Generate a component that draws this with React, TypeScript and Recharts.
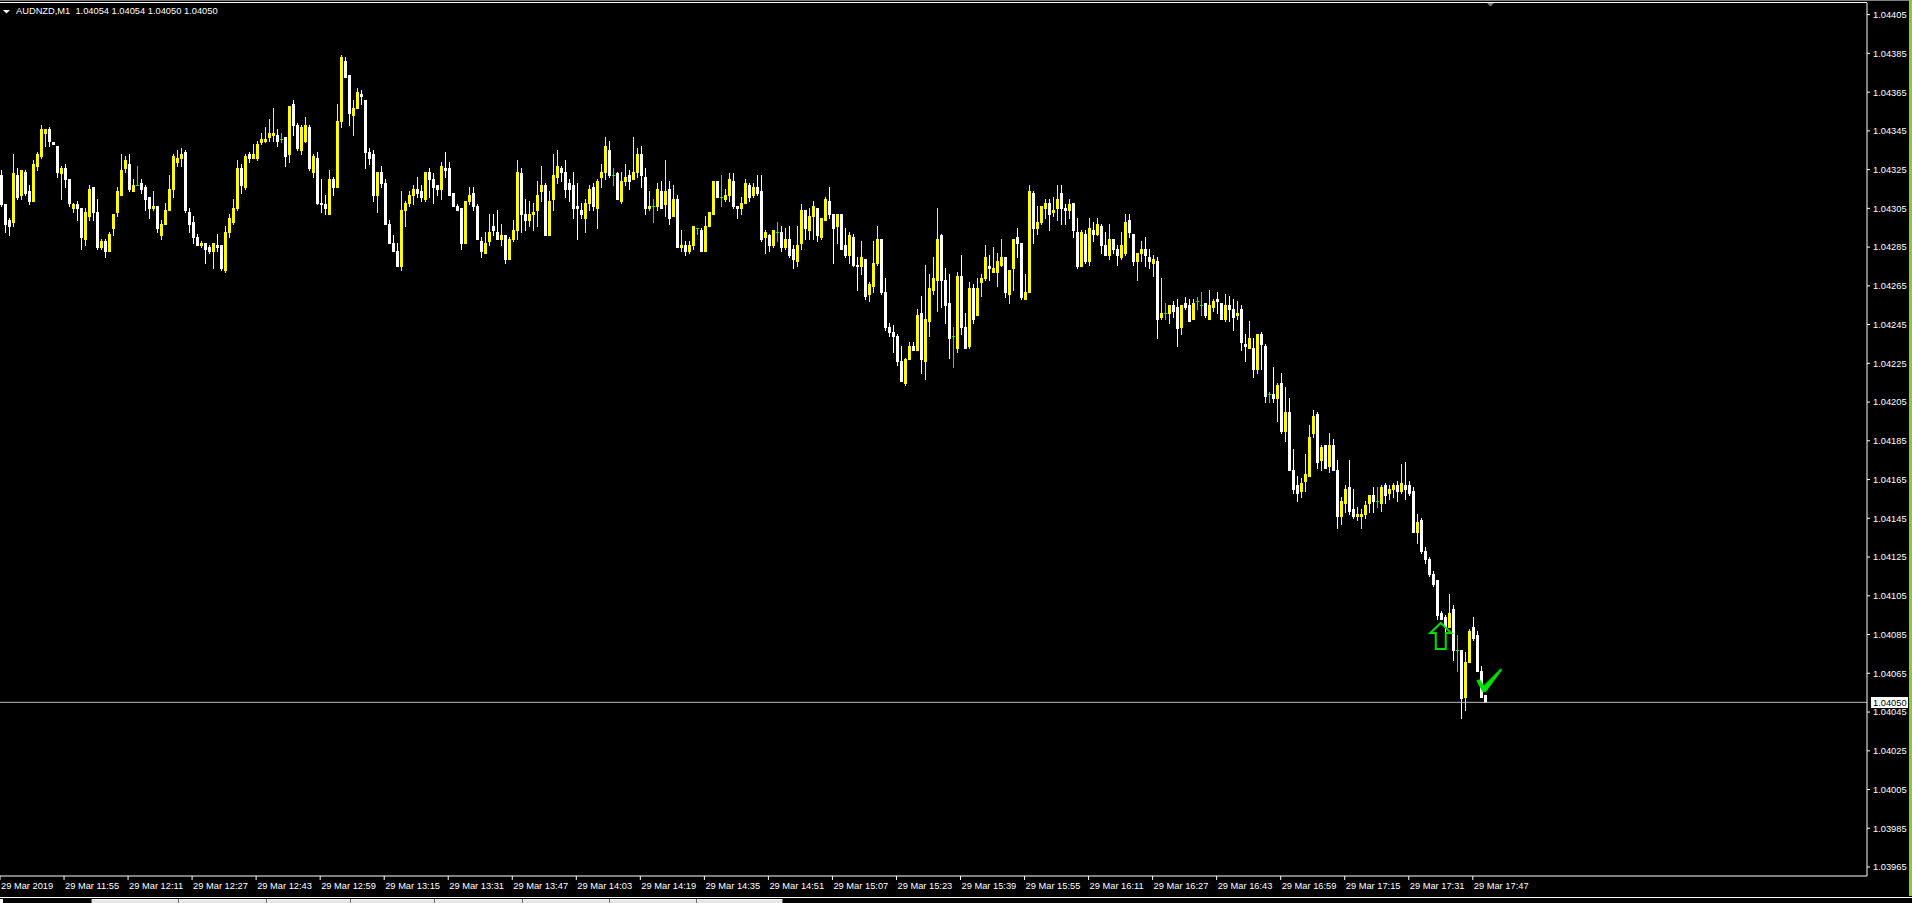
import React from 'react';
import { ComposedChart, Bar, XAxis, YAxis, ReferenceLine, ReferenceDot } from 'recharts';

const symbol = 'AUDNZD,M1';
const firstBarTime = '11:39';
const dayLabel = '29 Mar';
const firstDateLabel = '29 Mar 2019';
const timeTicks = ['11:39', '11:55', '12:11', '12:27', '12:43', '12:59', '13:15', '13:31', '13:47', '14:03', '14:19', '14:35', '14:51', '15:07', '15:23', '15:39', '15:55', '16:11', '16:27', '16:43', '16:59', '17:15', '17:31', '17:47'];
const priceTicks = [1.03965, 1.03985, 1.04005, 1.04025, 1.04045, 1.04065, 1.04085, 1.04105, 1.04125, 1.04145, 1.04165, 1.04185, 1.04205, 1.04225, 1.04245, 1.04265, 1.04285, 1.04305, 1.04325, 1.04345, 1.04365, 1.04385, 1.04405];
const priceDomain = [1.0396035, 1.04411];
const totalSlots = 467;
const arrowMark = { time: '17:39', price: 1.04091 };
const checkMark = { time: '17:50', price: 1.04056 };
const tabDividers = [91, 178, 266, 350, 434, 522, 609, 696, 782];

const opens = [
1.04322,1.04307,1.04299,1.04298,1.04322,1.04312,1.04324,1.04314,1.04309,1.04327,
1.04332,1.04344,1.04346,1.04339,1.04337,1.04323,1.04326,1.04320,1.04305,1.04307,
1.04305,1.04289,1.04301,1.04316,1.04303,1.04285,1.04288,1.04283,1.04295,1.04303,
1.04312,1.04326,1.04328,1.04314,1.04317,1.04318,1.04316,1.04311,1.04305,1.04306,
1.04291,1.04297,1.04304,1.04315,1.04329,1.04331,1.04334,1.04303,1.04298,1.04290,
1.04286,1.04287,1.04285,1.04283,1.04286,1.04286,1.04273,1.04293,1.04298,1.04305,
1.04326,1.04316,1.04333,1.04331,1.04331,1.04339,1.04340,1.04342,1.04343,1.04343,
1.04341,1.04342,1.04333,1.04359,1.04348,1.04335,1.04340,1.04347,1.04324,1.04331,
1.04308,1.04307,1.04302,1.04320,1.04316,1.04350,1.04381,1.04374,1.04353,1.04357,
1.04364,1.04361,1.04334,1.04333,1.04312,1.04324,1.04318,1.04297,1.04287,1.04283,
1.04275,1.04304,1.04308,1.04312,1.04315,1.04314,1.04310,1.04324,1.04320,1.04317,
1.04315,1.04326,1.04326,1.04313,1.04306,1.04305,1.04287,1.04309,1.04313,1.04306,
1.04288,1.04282,1.04288,1.04296,1.04293,1.04289,1.04291,1.04279,1.04289,1.04294,
1.04323,1.04302,1.04299,1.04302,1.04304,1.04314,1.04317,1.04291,1.04310,1.04321,
1.04326,1.04324,1.04318,1.04317,1.04306,1.04304,1.04300,1.04308,1.04316,1.04305,
1.04321,1.04324,1.04335,1.04322,1.04323,1.04309,1.04319,1.04322,1.04320,1.04324,
1.04333,1.04321,1.04305,1.04306,1.04306,1.04314,1.04307,1.04315,1.04301,1.04310,
1.04285,1.04286,1.04283,1.04286,1.04295,1.04294,1.04283,1.04296,1.04302,1.04319,
1.04311,1.04310,1.04312,1.04319,1.04306,1.04305,1.04308,1.04317,1.04312,1.04316,
1.04314,1.04290,1.04291,1.04286,1.04293,1.04293,1.04285,1.04289,1.04284,1.04278,
1.04287,1.04304,1.04294,1.04301,1.04305,1.04290,1.04299,1.04309,1.04302,1.04296,
1.04302,1.04286,1.04281,1.04290,1.04276,1.04275,1.04279,1.04261,1.04265,1.04277,
1.04289,1.04262,1.04244,1.04241,1.04239,1.04226,1.04215,1.04227,1.04234,1.04232,
1.04251,1.04226,1.04247,1.04263,1.04268,1.04291,1.04268,1.04256,1.04239,1.04233,
1.04270,1.04244,1.04234,1.04264,1.04250,1.04267,1.04269,1.04275,1.04272,1.04272,
1.04276,1.04280,1.04261,1.04274,1.04290,1.04287,1.04258,1.04262,1.04313,1.04295,
1.04298,1.04305,1.04308,1.04303,1.04305,1.04313,1.04305,1.04304,1.04308,1.04293,
1.04275,1.04292,1.04278,1.04294,1.04292,1.04296,1.04286,1.04281,1.04289,1.04284,
1.04280,1.04282,1.04299,1.04292,1.04278,1.04282,1.04284,1.04280,1.04277,1.04278,
1.04249,1.04251,1.04251,1.04255,1.04254,1.04244,1.04256,1.04255,1.04248,1.04257,
1.04255,1.04256,1.04248,1.04254,1.04258,1.04256,1.04248,1.04255,1.04253,1.04250,
1.04253,1.04235,1.04233,1.04233,1.04222,1.04240,1.04234,1.04209,1.04209,1.04207,
1.04215,1.04190,1.04200,1.04170,1.04162,1.04159,1.04164,1.04167,1.04189,1.04199,
1.04175,1.04183,1.04172,1.04183,1.04170,1.04146,1.04153,1.04161,1.04150,1.04146,
1.04146,1.04147,1.04153,1.04157,1.04154,1.04153,1.04162,1.04158,1.04160,1.04162,
1.04159,1.04162,1.04162,1.04159,1.04138,1.04144,1.04128,1.04124,1.04116,1.04113,
1.04096,1.04094,1.04089,1.04098,1.04077,1.04077,1.04053,1.04071,1.04089,1.04085,
1.04066,1.04054];

const highs = [
1.04325,1.04307,1.04300,1.04333,1.04326,1.04325,1.04325,1.04317,1.04330,1.04334,
1.04348,1.04346,1.04347,1.04339,1.04337,1.04327,1.04328,1.04320,1.04308,1.04309,
1.04305,1.04305,1.04317,1.04316,1.04310,1.04289,1.04289,1.04293,1.04302,1.04316,
1.04333,1.04332,1.04333,1.04320,1.04327,1.04320,1.04317,1.04311,1.04314,1.04306,
1.04299,1.04308,1.04322,1.04333,1.04335,1.04336,1.04335,1.04305,1.04301,1.04292,
1.04288,1.04287,1.04286,1.04287,1.04292,1.04286,1.04296,1.04302,1.04310,1.04330,
1.04328,1.04333,1.04334,1.04338,1.04340,1.04344,1.04347,1.04351,1.04357,1.04346,
1.04344,1.04342,1.04358,1.04361,1.04349,1.04348,1.04352,1.04348,1.04333,1.04334,
1.04320,1.04312,1.04325,1.04321,1.04359,1.04384,1.04383,1.04374,1.04361,1.04367,
1.04366,1.04361,1.04336,1.04335,1.04324,1.04327,1.04320,1.04299,1.04291,1.04287,
1.04314,1.04309,1.04314,1.04317,1.04321,1.04317,1.04324,1.04326,1.04323,1.04317,
1.04329,1.04334,1.04329,1.04313,1.04307,1.04305,1.04309,1.04316,1.04316,1.04307,
1.04290,1.04293,1.04302,1.04302,1.04304,1.04297,1.04291,1.04290,1.04299,1.04330,
1.04326,1.04310,1.04309,1.04308,1.04319,1.04327,1.04318,1.04314,1.04333,1.04335,
1.04327,1.04330,1.04320,1.04324,1.04318,1.04308,1.04310,1.04317,1.04318,1.04320,
1.04328,1.04342,1.04340,1.04326,1.04324,1.04324,1.04328,1.04325,1.04342,1.04336,
1.04337,1.04326,1.04314,1.04310,1.04318,1.04319,1.04330,1.04319,1.04317,1.04312,
1.04294,1.04288,1.04288,1.04296,1.04295,1.04295,1.04301,1.04303,1.04319,1.04319,
1.04322,1.04315,1.04323,1.04323,1.04306,1.04311,1.04320,1.04318,1.04318,1.04322,
1.04322,1.04294,1.04292,1.04294,1.04298,1.04296,1.04295,1.04296,1.04286,1.04296,
1.04307,1.04304,1.04305,1.04309,1.04305,1.04300,1.04311,1.04316,1.04302,1.04302,
1.04302,1.04295,1.04293,1.04292,1.04280,1.04288,1.04279,1.04267,1.04288,1.04296,
1.04289,1.04269,1.04246,1.04245,1.04240,1.04234,1.04228,1.04236,1.04236,1.04253,
1.04260,1.04276,1.04271,1.04280,1.04305,1.04292,1.04274,1.04271,1.04244,1.04272,
1.04281,1.04251,1.04267,1.04266,1.04269,1.04271,1.04286,1.04281,1.04285,1.04282,
1.04289,1.04280,1.04273,1.04289,1.04295,1.04287,1.04271,1.04317,1.04314,1.04306,
1.04306,1.04310,1.04310,1.04311,1.04317,1.04317,1.04307,1.04310,1.04308,1.04300,
1.04294,1.04294,1.04300,1.04298,1.04300,1.04297,1.04293,1.04297,1.04289,1.04286,
1.04293,1.04302,1.04302,1.04292,1.04282,1.04288,1.04290,1.04284,1.04281,1.04280,
1.04269,1.04256,1.04255,1.04257,1.04258,1.04255,1.04259,1.04258,1.04258,1.04259,
1.04262,1.04256,1.04263,1.04258,1.04262,1.04256,1.04261,1.04260,1.04258,1.04257,
1.04255,1.04240,1.04247,1.04238,1.04240,1.04241,1.04235,1.04210,1.04223,1.04215,
1.04220,1.04213,1.04207,1.04181,1.04167,1.04166,1.04178,1.04193,1.04201,1.04200,
1.04183,1.04183,1.04189,1.04186,1.04175,1.04156,1.04162,1.04175,1.04160,1.04151,
1.04150,1.04154,1.04157,1.04161,1.04161,1.04162,1.04163,1.04162,1.04163,1.04164,
1.04173,1.04174,1.04164,1.04161,1.04147,1.04145,1.04130,1.04125,1.04118,1.04113,
1.04097,1.04095,1.04106,1.04100,1.04085,1.04077,1.04076,1.04088,1.04094,1.04087,
1.04069,1.04054];

const lows = [
1.04306,1.04293,1.04291,1.04296,1.04310,1.04310,1.04312,1.04307,1.04309,1.04325,
1.04331,1.04337,1.04337,1.04338,1.04321,1.04310,1.04316,1.04306,1.04303,1.04299,
1.04284,1.04286,1.04299,1.04299,1.04284,1.04284,1.04280,1.04283,1.04291,1.04301,
1.04312,1.04324,1.04314,1.04314,1.04317,1.04313,1.04304,1.04300,1.04304,1.04293,
1.04289,1.04297,1.04304,1.04311,1.04327,1.04327,1.04303,1.04293,1.04287,1.04286,
1.04285,1.04277,1.04282,1.04274,1.04283,1.04273,1.04272,1.04290,1.04297,1.04304,
1.04313,1.04315,1.04329,1.04331,1.04330,1.04338,1.04339,1.04340,1.04340,1.04337,
1.04339,1.04327,1.04329,1.04343,1.04335,1.04333,1.04339,1.04325,1.04321,1.04307,
1.04303,1.04302,1.04302,1.04312,1.04316,1.04347,1.04373,1.04348,1.04343,1.04357,
1.04359,1.04326,1.04328,1.04309,1.04303,1.04316,1.04297,1.04287,1.04283,1.04275,
1.04273,1.04296,1.04306,1.04307,1.04311,1.04309,1.04309,1.04311,1.04308,1.04312,
1.04310,1.04321,1.04312,1.04306,1.04304,1.04284,1.04287,1.04307,1.04304,1.04289,
1.04280,1.04282,1.04286,1.04291,1.04289,1.04286,1.04277,1.04279,1.04288,1.04289,
1.04293,1.04294,1.04296,1.04294,1.04296,1.04309,1.04291,1.04291,1.04304,1.04318,
1.04319,1.04311,1.04309,1.04300,1.04289,1.04300,1.04293,1.04304,1.04304,1.04295,
1.04316,1.04320,1.04321,1.04317,1.04310,1.04308,1.04317,1.04315,1.04320,1.04321,
1.04316,1.04302,1.04304,1.04298,1.04304,1.04305,1.04301,1.04297,1.04301,1.04285,
1.04283,1.04281,1.04282,1.04284,1.04292,1.04283,1.04283,1.04296,1.04302,1.04311,
1.04306,1.04309,1.04309,1.04305,1.04300,1.04302,1.04308,1.04309,1.04311,1.04312,
1.04288,1.04282,1.04283,1.04285,1.04288,1.04283,1.04284,1.04280,1.04274,1.04275,
1.04284,1.04289,1.04289,1.04289,1.04288,1.04289,1.04299,1.04300,1.04277,1.04287,
1.04284,1.04280,1.04277,1.04275,1.04263,1.04271,1.04258,1.04257,1.04262,1.04276,
1.04261,1.04242,1.04239,1.04231,1.04224,1.04216,1.04214,1.04227,1.04232,1.04232,
1.04220,1.04217,1.04239,1.04261,1.04252,1.04254,1.04246,1.04228,1.04223,1.04231,
1.04240,1.04233,1.04233,1.04246,1.04250,1.04260,1.04268,1.04268,1.04272,1.04265,
1.04275,1.04259,1.04256,1.04263,1.04280,1.04258,1.04258,1.04262,1.04287,1.04292,
1.04297,1.04300,1.04294,1.04301,1.04299,1.04297,1.04297,1.04300,1.04290,1.04274,
1.04275,1.04277,1.04276,1.04288,1.04291,1.04282,1.04281,1.04279,1.04282,1.04276,
1.04279,1.04281,1.04290,1.04276,1.04268,1.04278,1.04275,1.04274,1.04270,1.04238,
1.04248,1.04248,1.04246,1.04249,1.04234,1.04240,1.04253,1.04247,1.04248,1.04253,
1.04250,1.04249,1.04248,1.04252,1.04251,1.04248,1.04247,1.04247,1.04242,1.04248,
1.04232,1.04226,1.04233,1.04218,1.04220,1.04222,1.04205,1.04205,1.04205,1.04195,
1.04189,1.04185,1.04170,1.04158,1.04154,1.04156,1.04159,1.04167,1.04187,1.04171,
1.04170,1.04171,1.04169,1.04170,1.04140,1.04142,1.04148,1.04147,1.04145,1.04144,
1.04140,1.04145,1.04148,1.04148,1.04151,1.04149,1.04153,1.04155,1.04156,1.04154,
1.04158,1.04155,1.04157,1.04138,1.04132,1.04127,1.04122,1.04115,1.04110,1.04093,
1.04093,1.04086,1.04089,1.04072,1.04066,1.04042,1.04046,1.04071,1.04082,1.04066,
1.04053,1.04050];

const closes = [
1.04307,1.04297,1.04296,1.04323,1.04311,1.04325,1.04313,1.04309,1.04328,1.04333,
1.04346,1.04346,1.04340,1.04338,1.04324,1.04326,1.04320,1.04308,1.04307,1.04305,
1.04290,1.04303,1.04315,1.04303,1.04285,1.04288,1.04283,1.04292,1.04302,1.04314,
1.04325,1.04330,1.04315,1.04317,1.04317,1.04315,1.04310,1.04305,1.04306,1.04295,
1.04297,1.04304,1.04315,1.04332,1.04331,1.04333,1.04304,1.04297,1.04290,1.04286,
1.04287,1.04284,1.04283,1.04287,1.04285,1.04274,1.04293,1.04300,1.04305,1.04326,
1.04317,1.04332,1.04331,1.04333,1.04338,1.04341,1.04341,1.04344,1.04344,1.04340,
1.04341,1.04332,1.04358,1.04348,1.04336,1.04347,1.04348,1.04326,1.04332,1.04308,
1.04307,1.04305,1.04320,1.04316,1.04350,1.04383,1.04373,1.04354,1.04357,1.04365,
1.04363,1.04334,1.04331,1.04312,1.04324,1.04318,1.04297,1.04287,1.04283,1.04275,
1.04304,1.04308,1.04312,1.04315,1.04313,1.04311,1.04324,1.04320,1.04316,1.04315,
1.04327,1.04325,1.04312,1.04306,1.04304,1.04287,1.04309,1.04312,1.04306,1.04289,
1.04283,1.04287,1.04293,1.04294,1.04289,1.04291,1.04279,1.04289,1.04294,1.04324,
1.04302,1.04299,1.04302,1.04303,1.04312,1.04317,1.04291,1.04309,1.04322,1.04327,
1.04324,1.04315,1.04315,1.04305,1.04305,1.04302,1.04308,1.04315,1.04306,1.04319,
1.04324,1.04337,1.04322,1.04322,1.04310,1.04319,1.04321,1.04319,1.04324,1.04333,
1.04322,1.04305,1.04306,1.04306,1.04315,1.04305,1.04314,1.04300,1.04310,1.04285,
1.04286,1.04283,1.04286,1.04296,1.04295,1.04283,1.04296,1.04303,1.04319,1.04311,
1.04311,1.04312,1.04320,1.04306,1.04305,1.04308,1.04318,1.04311,1.04316,1.04313,
1.04289,1.04293,1.04286,1.04294,1.04293,1.04285,1.04289,1.04281,1.04279,1.04286,
1.04304,1.04295,1.04301,1.04306,1.04291,1.04300,1.04310,1.04302,1.04295,1.04302,
1.04284,1.04281,1.04291,1.04276,1.04275,1.04280,1.04260,1.04266,1.04277,1.04289,
1.04262,1.04244,1.04241,1.04239,1.04226,1.04216,1.04227,1.04234,1.04232,1.04250,
1.04227,1.04248,1.04264,1.04269,1.04289,1.04268,1.04255,1.04238,1.04239,1.04270,
1.04244,1.04233,1.04264,1.04248,1.04264,1.04269,1.04280,1.04274,1.04274,1.04278,
1.04280,1.04262,1.04273,1.04289,1.04287,1.04259,1.04262,1.04314,1.04295,1.04298,
1.04306,1.04308,1.04302,1.04304,1.04310,1.04305,1.04304,1.04307,1.04294,1.04275,
1.04293,1.04278,1.04295,1.04292,1.04297,1.04286,1.04281,1.04289,1.04284,1.04281,
1.04286,1.04298,1.04293,1.04278,1.04282,1.04284,1.04281,1.04278,1.04279,1.04248,
1.04251,1.04251,1.04255,1.04252,1.04243,1.04255,1.04254,1.04247,1.04256,1.04257,
1.04255,1.04250,1.04255,1.04257,1.04257,1.04248,1.04255,1.04253,1.04249,1.04251,
1.04236,1.04234,1.04238,1.04222,1.04240,1.04235,1.04208,1.04209,1.04207,1.04214,
1.04190,1.04200,1.04170,1.04160,1.04158,1.04163,1.04168,1.04187,1.04198,1.04174,
1.04182,1.04171,1.04183,1.04170,1.04146,1.04154,1.04160,1.04149,1.04146,1.04147,
1.04147,1.04152,1.04157,1.04154,1.04154,1.04161,1.04157,1.04160,1.04162,1.04159,
1.04163,1.04160,1.04158,1.04138,1.04143,1.04128,1.04124,1.04116,1.04111,1.04095,
1.04093,1.04089,1.04096,1.04077,1.04077,1.04052,1.04071,1.04087,1.04083,1.04066,
1.04053,1.04050];

const FONT = '"Liberation Sans", Arial, sans-serif';
const FS = 9.3;
const BULL = '#FFFF00';
const BEAR = '#FFFFFF';
const DOJI = '#00FF00';
const MARK = '#00E000';

function minuteLabel(start: string, k: number) {
  const [h, m] = start.split(':').map(Number);
  const t = h * 60 + m + k;
  return `${String(Math.floor(t / 60)).padStart(2, '0')}:${String(t % 60).padStart(2, '0')}`;
}

type Row = { t: string; o?: number; h?: number; l?: number; c?: number; range?: [number, number] };
const data: Row[] = [];
for (let i = 0; i < totalSlots; i++) {
  if (i < opens.length) {
    data.push({ t: minuteLabel(firstBarTime, i), o: opens[i], h: highs[i], l: lows[i], c: closes[i], range: [lows[i], highs[i]] });
  } else {
    data.push({ t: 'shift-' + i });
  }
}

const Candle = (props: any) => {
  const { x, y, width, height, payload } = props;
  if (!payload || payload.o == null) return null;
  const { o, h, l, c } = payload;
  const top = Math.min(y, y + height);
  const hh = Math.abs(height);
  const ratio = h - l > 0 ? hh / (h - l) : 0;
  const py = (v: number) => top + (h - v) * ratio;
  const cx = Math.round(x + width / 2);
  const color = c > o ? BULL : c < o ? BEAR : DOJI;
  const wt = Math.round(top);
  const wb = Math.round(top + hh);
  const bt = Math.round(py(Math.max(o, c)));
  const bb = Math.round(py(Math.min(o, c)));
  return (
    <g shapeRendering="crispEdges">
      <rect x={cx} y={wt} width={1} height={Math.max(1, wb - wt + 1)} fill={color} />
      <rect x={cx - 1} y={bt} width={3} height={Math.max(1, bb - bt + (c === o ? 0 : 1))} fill={color} />
    </g>
  );
};

const TimeTick = (props: any) => {
  const { x, y, payload } = props;
  const label = payload.value === firstBarTime ? firstDateLabel : `${dayLabel} ${payload.value}`;
  return (
    <text x={x + 1} y={y} dy={7} fill="#FFFFFF" fontSize={FS} fontFamily={FONT} textAnchor="start">
      {label}
    </text>
  );
};

const PriceTick = (props: any) => {
  const { x, y, payload } = props;
  return (
    <text x={x + 1} y={y} dy={3.4} fill="#FFFFFF" fontSize={FS} fontFamily={FONT} textAnchor="start">
      {Number(payload.value).toFixed(5)}
    </text>
  );
};

const lastIdx = opens.length - 1;
const lastClose = closes[lastIdx];

const PriceTag = (props: any) => {
  const vb = props.viewBox;
  if (!vb) return null;
  const ax = vb.x + vb.width;
  const yy = vb.y;
  return (
    <g>
      <rect x={ax + 4} y={yy - 5} width={37} height={11} fill="#FFFFFF" shapeRendering="crispEdges" />
      <text x={ax + 6} y={yy} dy={3.4} fill="#000000" fontSize={FS} fontFamily={FONT} textAnchor="start">
        {lastClose.toFixed(5)}
      </text>
    </g>
  );
};

const UpArrow = (props: any) => {
  const { cx, cy } = props;
  if (cx == null || cy == null) return null;
  const pts = [[0, 0], [10.5, 10], [5, 10], [5, 26], [-5, 26], [-5, 10], [-10.5, 10]]
    .map(([dx, dy]) => `${cx + dx},${cy + dy}`).join(' ');
  return <polygon points={pts} fill="none" stroke={MARK} strokeWidth={2} strokeLinejoin="miter" />;
};

const CheckSign = (props: any) => {
  const { cx, cy } = props;
  if (cx == null || cy == null) return null;
  const pts = [[-8, -10], [-5, -11], [-1, -5], [16, -22], [17, -21], [1, 1], [-2, 1]]
    .map(([dx, dy]) => `${cx + dx},${cy + dy}`).join(' ');
  return <polygon points={pts} fill={MARK} stroke={MARK} strokeWidth={0.8} />;
};

export default function App() {
  const titleText = `${symbol}  ${opens[lastIdx].toFixed(5)} ${highs[lastIdx].toFixed(5)} ${lows[lastIdx].toFixed(5)} ${closes[lastIdx].toFixed(5)}`;
  return (
    <div style={{ position: 'fixed', left: 0, top: 0, width: 1912, height: 903, background: '#000000', overflow: 'hidden' }}>
      <div style={{ position: 'absolute', left: -2, top: 0 }}>
        <ComposedChart
          width={1914}
          height={903}
          data={data}
          margin={{ top: 3, right: 0, bottom: 0, left: 0 }}
          barCategoryGap={0}
        >
          <XAxis
            dataKey="t"
            type="category"
            ticks={timeTicks}
            interval={0}
            height={27}
            axisLine={{ stroke: '#FFFFFF' }}
            tickLine={{ stroke: '#FFFFFF' }}
            tickSize={4}
            tick={<TimeTick />}
          />
          <YAxis
            orientation="right"
            type="number"
            width={45}
            domain={priceDomain}
            allowDataOverflow
            ticks={priceTicks}
            interval={0}
            axisLine={{ stroke: '#FFFFFF' }}
            tickLine={{ stroke: '#FFFFFF' }}
            tickSize={3}
            tick={<PriceTick />}
          />
          <ReferenceLine y={lastClose} stroke="#C0C0C0" strokeWidth={1} label={(p: any) => <PriceTag {...p} />} />
          <Bar dataKey="range" barSize={3} shape={<Candle />} isAnimationActive={false} />
          <ReferenceDot x={arrowMark.time} y={arrowMark.price} r={0} shape={(p: any) => <UpArrow {...p} />} />
          <ReferenceDot x={checkMark.time} y={checkMark.price} r={0} shape={(p: any) => <CheckSign {...p} />} />
        </ComposedChart>
      </div>
      <div style={{ position: 'absolute', left: 0, top: 0, width: 1912, height: 1, background: '#808080' }} />
      <div style={{ position: 'absolute', left: 0, top: 2, width: 1867, height: 1, background: '#FFFFFF' }} />
      <svg style={{ position: 'absolute', left: 0, top: 0 }} width={1912} height={20}>
        <polygon points="3,10 10,10 6.5,13.5" fill="#FFFFFF" />
        <polygon points="1487,3 1494,3 1490.5,6.5" fill="#808080" />
      </svg>
      <div style={{ position: 'absolute', left: 16, top: 5, color: '#FFFFFF', fontFamily: FONT, fontSize: FS, whiteSpace: 'pre', lineHeight: '12px' }}>
        {titleText}
      </div>
      <div style={{ position: 'absolute', left: 1909, top: 0, width: 3, height: 903, background: '#8DC63F' }} />
      <div style={{ position: 'absolute', left: 0, top: 896, width: 1912, height: 7, background: '#000000' }} />
      <div style={{ position: 'absolute', left: 0, top: 897, width: 1912, height: 1, background: '#FFFFFF' }} />
      <div style={{ position: 'absolute', left: 0, top: 899, width: 3, height: 4, background: '#FFFFFF' }} />
      <div style={{ position: 'absolute', left: tabDividers[0], top: 899, width: tabDividers[tabDividers.length - 1] - tabDividers[0], height: 4, background: '#E6E6E6', borderTop: '1px solid #FFFFFF', boxSizing: 'border-box' }} />
      {tabDividers.map((dx) => (
        <div key={dx} style={{ position: 'absolute', left: dx, top: 899, width: 1, height: 4, background: '#707070' }} />
      ))}
    </div>
  );
}
